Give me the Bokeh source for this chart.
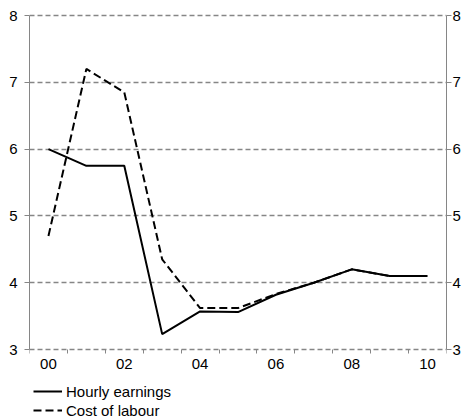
from bokeh.plotting import figure
from bokeh.models import (Range1d, LinearAxis, FixedTicker, Legend, LegendItem)
from bokeh.embed import file_html
from bokeh.resources import INLINE

# ---- data ----
years = ["00", "01", "02", "03", "04", "05", "06", "07", "08", "09", "10"]
hourly_earnings = [6.0, 5.75, 5.75, 3.23, 3.57, 3.56, 3.82, 4.0, 4.2, 4.1, 4.1]
cost_of_labour = [4.7, 7.2, 6.85, 4.35, 3.62, 3.62, 3.83, 4.0, 4.2, 4.1, 4.1]
y_ticks = [3, 4, 5, 6, 7, 8]

x = [i + 0.5 for i in range(len(years))]
FONT = "Liberation Sans"
GRAY = "#868686"

# layout (pixels): frame spans the page height so the legend can sit under the axis
W, H = 467, 419
TOP, PLOT_TOP, PLOT_BOTTOM = 13, 15, 349
px_per_unit = (PLOT_BOTTOM - PLOT_TOP) / (y_ticks[-1] - y_ticks[0])
y_end = y_ticks[-1] + (PLOT_TOP - TOP) / px_per_unit
y_start = y_ticks[0] - (H - PLOT_BOTTOM) / px_per_unit

p = figure(width=W, height=H, output_backend="svg", toolbar_location=None,
           x_range=Range1d(0, len(years)), y_range=Range1d(y_start, y_end),
           min_border_left=29, min_border_right=21, min_border_top=TOP,
           min_border_bottom=0)
p.outline_line_color = None
p.background_fill_color = "white"
p.border_fill_color = "white"

# x axis drawn at y = 3: labels at category centres (every other), ticks at boundaries
label_pos = [x[i] for i in range(0, len(years), 2)]
xt = FixedTicker(ticks=label_pos, minor_ticks=list(range(len(years) + 1)))
xa = p.xaxis[0]
xa.fixed_location = y_ticks[0]
xa.ticker = xt
xa.major_label_overrides = {x[i]: years[i] for i in range(0, len(years), 2)}
xa.axis_line_color = None
xa.major_tick_line_color = None
xa.minor_tick_line_color = GRAY
xa.minor_tick_out = 4
xa.minor_tick_in = 0
xa.major_label_standoff = 3
xa.major_label_text_font = FONT
xa.major_label_text_font_size = "15px"
xa.major_label_text_color = "black"

# y axes
ya = p.yaxis[0]
ya.ticker = FixedTicker(ticks=y_ticks)
ra = LinearAxis(ticker=FixedTicker(ticks=y_ticks))
p.add_layout(ra, "right")
for ax, standoff in ((ya, 7), (ra, 1)):
    ax.bounds = (y_ticks[0], y_ticks[-1])
    ax.axis_line_color = GRAY
    ax.major_tick_line_color = GRAY
    ax.major_tick_out = 5
    ax.major_tick_in = 0
    ax.minor_tick_line_color = None
    ax.major_label_standoff = standoff
    ax.major_label_text_font = FONT
    ax.major_label_text_font_size = "15px"
    ax.major_label_text_color = "black"

p.xgrid.grid_line_color = None
p.ygrid.ticker = FixedTicker(ticks=y_ticks)
p.ygrid.grid_line_color = GRAY
p.ygrid.grid_line_width = 1.5
p.ygrid.grid_line_dash = "5 3"

r1 = p.line(x, hourly_earnings, line_color="black", line_width=2)
r2 = p.line(x, cost_of_labour, line_color="black", line_width=2, line_dash="8 4")

legend = Legend(items=[LegendItem(label="Hourly earnings", renderers=[r1]),
                       LegendItem(label="Cost of labour", renderers=[r2])],
                location=(4, 0), orientation="vertical")
legend.border_line_color = None
legend.background_fill_alpha = 0
legend.margin = 0
legend.padding = 0
legend.spacing = 1
legend.glyph_width = 29
legend.glyph_height = 18
legend.label_height = 18
legend.label_standoff = 4
legend.label_text_font = FONT
legend.label_text_font_size = "15px"
legend.label_text_color = "black"
p.add_layout(legend, "center")

open("out.html", "w").write(file_html(p, INLINE))
